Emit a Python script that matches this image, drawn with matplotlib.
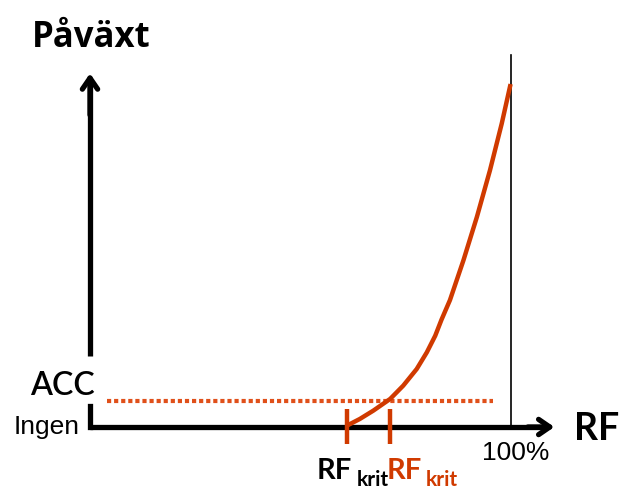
import numpy as np
import matplotlib
matplotlib.use("Agg")
import matplotlib.pyplot as plt

# curve: RF (%) vs growth (ACC = 1)
rf = [61.0, 64.1, 67.3, 71.3, 74.4, 77.6, 80.0, 82.0, 83.5, 85.5,
      88.7, 91.9, 95.0, 97.8, 99.9]
growth = [0.05, 0.31, 0.63, 1.08, 1.59, 2.23, 2.87, 3.51, 4.13, 4.88,
          6.41, 8.08, 9.87, 11.67, 13.19]

rf_krit = [61.0, 71.3]
acc = 1.0
acc_line = [4.0, 95.7]
rf_max = 100.0

W, H = 619, 489
X0, Y0 = 90, 428          # pixel position of the origin
SX, SY = 4.21, 26.0       # pixels per unit

RED = "#D03A00"
DOT = "#E0501A"

fig = plt.figure(figsize=(W / 100, H / 100), dpi=100)
ax = fig.add_axes([0, 0, 1, 1])
ax.set_xlim(-X0 / SX, (W - X0) / SX)
ax.set_ylim(-(H - Y0) / SY, Y0 / SY)
ax.axis("off")

def px(x, y):
    # pixel -> figure fraction, for text placement
    return x / W, 1 - y / H

# axes with arrows (y axis broken behind the ACC label)
ax.plot([0, 108.5], [0, 0], color="black", lw=3.8, solid_capstyle="butt")
ax.plot([0, 0], [0, 0.81], color="black", lw=3.8, solid_capstyle="projecting")
ax.plot([0, 0], [2.73, 13.3], color="black", lw=3.8, solid_capstyle="butt")
ax.annotate("", xy=(110.3, 0), xytext=(104, 0),
            arrowprops=dict(arrowstyle="->,head_length=0.8,head_width=0.55",
                            lw=3.8, color="black", shrinkA=0, shrinkB=0))
ax.annotate("", xy=(0, 13.6), xytext=(0, 12.0),
            arrowprops=dict(arrowstyle="->,head_length=0.8,head_width=0.55",
                            lw=3.8, color="black", shrinkA=0, shrinkB=0))

# 100% line
ax.plot([rf_max, rf_max], [0, 14.3], color="black", lw=1.2)

# ACC dotted line
ax.plot(acc_line, [acc, acc], color=DOT, lw=3, linestyle=(0, (1.0, 0.7)),
        dash_capstyle="butt")

# growth curve
ax.plot(rf, growth, color=RED, lw=3.2, solid_joinstyle="round",
        solid_capstyle="butt")

# RF_krit ticks
for xk in rf_krit:
    ax.plot([xk, xk], [0.69, -0.65], color=RED, lw=3.2, solid_capstyle="butt")

# labels
lato = "Lato"
fig.text(*px(32, 47), "Påväxt", fontsize=25, fontweight="bold",
         family="Open Sans", va="baseline", ha="left")
fig.text(*px(30, 395), "ACC", fontsize=23, fontweight=600, family=lato,
         va="baseline", ha="left")
fig.text(*px(80, 434), "Ingen", fontsize=19, family="Liberation Sans",
         va="baseline", ha="right")
fig.text(*px(482, 460), "100%", fontsize=19, family="Liberation Sans",
         va="baseline", ha="left")
fig.text(*px(574, 440), "RF", fontsize=27, fontweight="bold", family=lato,
         va="baseline", ha="left")

fig.text(*px(317, 479), "RF", fontsize=21, fontweight="bold", family=lato,
         va="baseline", ha="left", color="black")
fig.text(*px(357, 486), "krit", fontsize=15, fontweight="bold", family=lato,
         va="baseline", ha="left", color="black")
fig.text(*px(387, 479), "RF", fontsize=21, fontweight="bold", family=lato,
         va="baseline", ha="left", color=RED)
fig.text(*px(426, 486), "krit", fontsize=15, fontweight="bold", family=lato,
         va="baseline", ha="left", color=RED)

fig.savefig("out.png", dpi=100, facecolor="white")
